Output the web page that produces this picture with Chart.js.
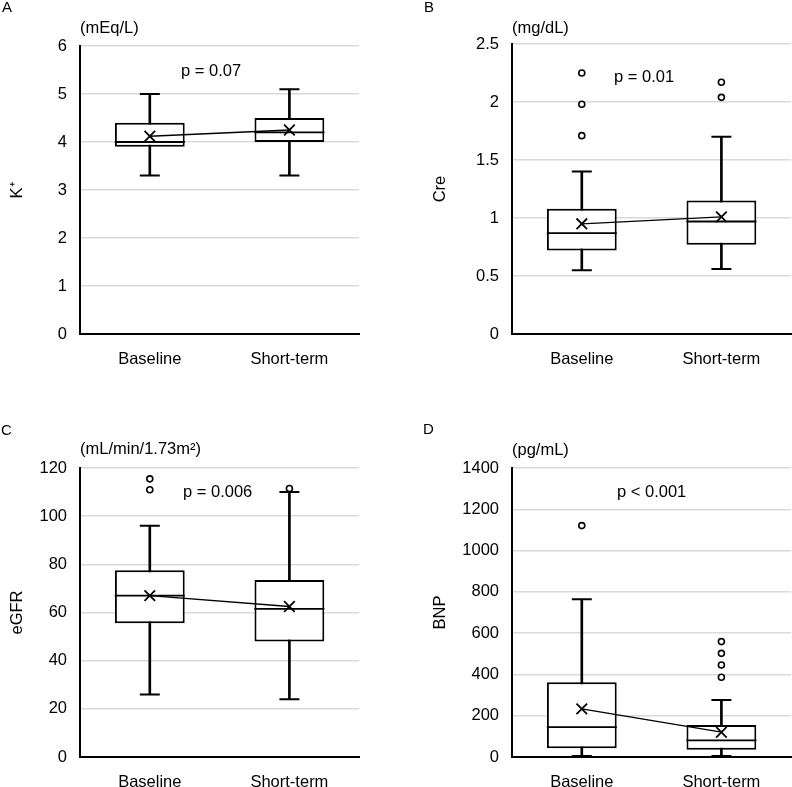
<!DOCTYPE html>
<html>
<head>
<meta charset="utf-8">
<script src="https://cdn.jsdelivr.net/npm/chart.js@4"></script>
<style>
  body { margin: 0; background: #fff; }
  #wrap { position: relative; width: 792px; height: 787px; overflow: hidden; font-family: 'Liberation Sans', Arial, sans-serif; color: #000; }
  canvas { position: absolute; }
  .t { position: absolute; font-size: 16.5px; line-height: 16px; white-space: nowrap; }
  .lt { font-size: 15px; line-height: 15px; }
</style>
</head>
<body>
<div id="wrap">
  <!-- canvases are a bit larger than their quarter so the point overflow padding falls outside the page -->
  <canvas id="cA" width="396" height="390" style="left:0;top:0"></canvas>
  <canvas id="cB" width="432" height="390" style="left:396px;top:0"></canvas>
  <canvas id="cC" width="396" height="423" style="left:0;top:390px"></canvas>
  <canvas id="cD" width="432" height="423" style="left:396px;top:390px"></canvas>

  <div class="t lt" style="left:2px;top:-1px">A</div>
  <div class="t lt" style="left:424px;top:-1px">B</div>
  <div class="t lt" style="left:1px;top:422px">C</div>
  <div class="t lt" style="left:423px;top:421px">D</div>

  <div class="t" style="left:80px;top:19px">(mEq/L)</div>
  <div class="t" style="left:512px;top:19px">(mg/dL)</div>
  <div class="t" style="left:80px;top:440px">(mL/min/1.73m²)</div>
  <div class="t" style="left:512px;top:441px">(pg/mL)</div>

  <div class="t" style="left:181px;top:62px">p = 0.07</div>
  <div class="t" style="left:614px;top:68px">p = 0.01</div>
  <div class="t" style="left:183px;top:483px">p = 0.006</div>
  <div class="t" style="left:617px;top:483px">p &lt; 0.001</div>
</div>

<script>
const categories = ['Baseline', 'Short-term'];

// box per category: [whisker low, Q1, median, Q3, whisker high]
const kBox = [[3.3, 3.9, 4.0, 4.4, 5.0], [3.3, 4.0, 4.2, 4.5, 5.1]];
const kMean = [4.12, 4.25];
const kOutliers = [[], []];
const kTicks = [0, 1, 2, 3, 4, 5, 6];

const creBox = [[0.55, 0.72, 0.87, 1.08, 1.4], [0.56, 0.77, 0.97, 1.15, 1.7]];
const creMean = [0.95, 1.01];
const creOutliers = [[1.71, 1.98, 2.25], [2.04, 2.17]];
const creTicks = [0, 0.5, 1, 1.5, 2, 2.5];

const egfrBox = [[26, 55.5, 67, 77.5, 96], [24, 48, 61.5, 73.5, 110]];
const egfrMean = [67, 62.5];
const egfrOutliers = [[111, 115.5], [111.5]];
const egfrTicks = [0, 20, 40, 60, 80, 100, 120];

const bnpBox = [[5, 42, 145, 362, 764], [5, 35, 81, 155, 276]];
const bnpMean = [233, 120];
const bnpOutliers = [[1121], [386, 446, 502, 559]];
const bnpTicks = [0, 200, 400, 600, 800, 1000, 1200, 1400];

const FONT = "'Liberation Sans', Arial, sans-serif";

function boxPanel(id, box, mean, outliers, ticks, title, lay) {
  const caps = [];
  const medians = [];
  const dots = [];
  box.forEach((b, i) => {
    caps.push({ x: categories[i], y: b[0] }, { x: categories[i], y: b[4] });
    medians.push({ x: categories[i], y: b[2] });
    outliers[i].forEach(v => dots.push({ x: categories[i], y: v }));
  });

  new Chart(document.getElementById(id), {
    type: 'bar',
    data: {
      labels: categories,
      datasets: [
        { // whisker stems
          data: box.map(b => [b[0], b[4]]),
          backgroundColor: '#000',
          barThickness: 2,
          grouped: false,
          order: 6
        },
        { // boxes
          data: box.map(b => [b[1], b[3]]),
          backgroundColor: '#fff',
          borderColor: '#000',
          borderWidth: 2,
          borderSkipped: false,
          barPercentage: 0.5,
          categoryPercentage: 1,
          grouped: false,
          order: 5
        },
        {
          type: 'line',
          data: medians,
          showLine: false,
          pointStyle: 'line',
          pointRadius: 35,
          pointBorderColor: '#000',
          pointBorderWidth: 1.8,
          order: 4
        },
        {
          type: 'line',
          data: caps,
          showLine: false,
          pointStyle: 'line',
          pointRadius: 10,
          pointBorderColor: '#000',
          pointBorderWidth: 2,
          order: 3
        },
        {
          type: 'line',
          data: mean,
          borderColor: '#000',
          borderWidth: 1.3,
          pointStyle: 'crossRot',
          pointRadius: 7.5,
          pointBorderColor: '#000',
          pointBorderWidth: 1.8,
          order: 2
        },
        {
          type: 'line',
          data: dots,
          showLine: false,
          pointStyle: 'circle',
          pointRadius: 3,
          pointBackgroundColor: '#fff',
          pointBorderColor: '#000',
          pointBorderWidth: 1.6,
          order: 1
        }
      ]
    },
    options: {
      responsive: false,
      animation: false,
      events: [],
      layout: { padding: { top: lay.top, right: lay.right, bottom: 0, left: 0 } },
      plugins: { legend: { display: false }, tooltip: { enabled: false } },
      scales: {
        x: {
          grid: { display: false, drawTicks: false },
          border: { display: true, color: '#000', width: 2 },
          ticks: { color: '#000', padding: 16, font: { family: FONT, size: 16.5 } },
          afterFit: s => { s.height = 56; }
        },
        y: {
          min: ticks[0],
          max: ticks[ticks.length - 1],
          afterBuildTicks: s => { s.ticks = ticks.map(v => ({ value: v })); },
          grid: {
            color: ctx => ctx.tick && ctx.tick.value === ticks[0] ? 'rgba(0,0,0,0)' : '#d9d9d9',
            lineWidth: 1.5,
            drawTicks: false
          },
          border: { display: true, color: '#000', width: 2 },
          ticks: {
            color: '#000',
            padding: 13,
            font: { family: FONT, size: 16.5 },
            callback: v => String(v)
          },
          title: {
            display: true,
            text: title,
            color: '#000',
            font: { family: FONT, size: 16.5 },
            padding: { top: lay.tp, bottom: 0 }
          },
          afterFit: s => { s.width = lay.yw; }
        }
      }
    }
  });
}

boxPanel('cA', kBox, kMean, kOutliers, kTicks, 'K⁺', { top: 46, right: 35, yw: 80, tp: 8 });
boxPanel('cB', creBox, creMean, creOutliers, creTicks, 'Cre', { top: 44, right: 36, yw: 116, tp: 35 });
boxPanel('cC', egfrBox, egfrMean, egfrOutliers, egfrTicks, 'eGFR', { top: 78, right: 36, yw: 80, tp: 8 });
boxPanel('cD', bnpBox, bnpMean, bnpOutliers, bnpTicks, 'BNP', { top: 78, right: 36, yw: 116, tp: 35 });
</script>
</body>
</html>
